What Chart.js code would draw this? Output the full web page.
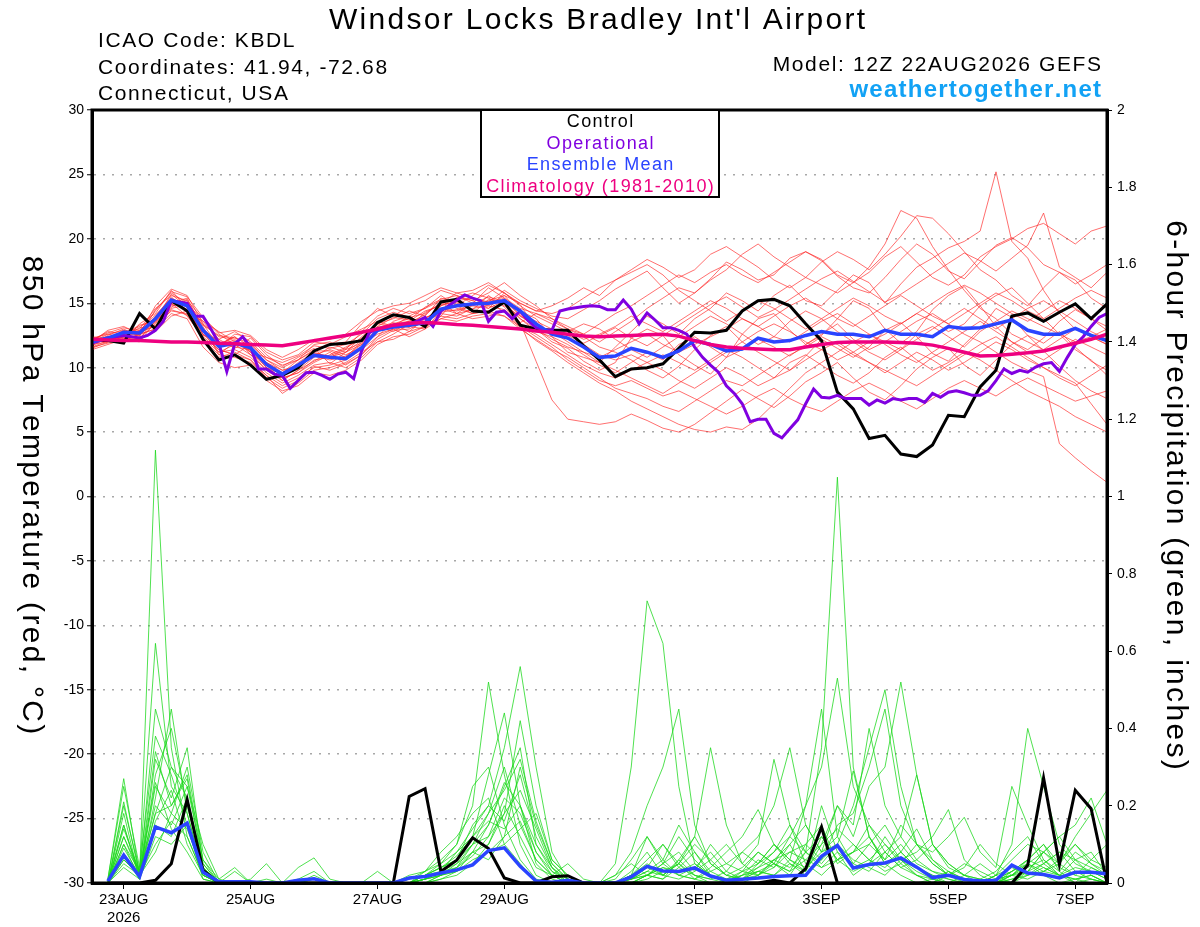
<!DOCTYPE html>
<html>
<head>
<meta charset="utf-8">
<script src="https://cdn.jsdelivr.net/npm/chart.js@4.4.1/dist/chart.umd.min.js"></script>
<style>
  html, body { margin: 0; padding: 0; background: #fff; }
  canvas { display: block; }
</style>
</head>
<body>
<canvas id="chart" width="1200" height="927"></canvas>
<script>
// x axis is hours after 12Z 22AUG2026
const tickHours = [12, 60, 108, 156, 228, 276, 324, 372];
const tickLabels = [['23AUG', '2026'], '25AUG', '27AUG', '29AUG', '1SEP', '3SEP', '5SEP', '7SEP'];
const tempTicks = [-30, -25, -20, -15, -10, -5, 0, 5, 10, 15, 20, 25, 30];

// 850 hPa temperature, 6-hourly from 12Z 22AUG
const control = [
  12.1, 12.1, 11.9, 14.2, 13.0, 15.2, 14.4, 12.2, 10.6, 11.0,
  10.2, 9.1, 9.4, 10.0, 11.3, 11.8, 11.9, 12.1, 13.5, 14.1,
  13.9, 13.2, 15.1, 15.3, 14.4, 14.3, 15.1, 13.3, 13.0, 12.9,
  12.9, 11.7, 10.6, 9.3, 9.9, 10.0, 10.3, 11.5, 12.75, 12.7,
  12.9, 14.4, 15.2, 15.3, 14.8, 13.4, 12.1, 8.1, 6.8, 4.5,
  4.75, 3.3, 3.1, 4.0, 6.3, 6.2, 8.5, 9.8, 14.0, 14.25,
  13.6, 14.3, 14.95, 13.8, 14.95
];
const ensMean = [
  12.0, 12.3, 12.75, 12.7, 13.8, 15.25, 14.8, 12.9, 11.65, 11.9,
  11.55, 10.25, 9.5, 10.2, 10.95, 10.8, 10.7, 11.55, 12.9, 13.15,
  13.3, 13.5, 14.55, 14.8, 14.95, 15.0, 15.2, 14.4, 13.4, 12.6,
  12.3, 11.6, 10.8, 10.9, 11.5, 11.2, 10.8, 11.3, 12.1, 11.8,
  11.3, 11.45, 12.3, 12.0, 12.1, 12.5, 12.8, 12.6, 12.6, 12.4,
  12.9, 12.6, 12.6, 12.4, 13.2, 13.05, 13.1, 13.4, 13.7, 12.9,
  12.6, 12.6, 13.05, 12.5, 12.1
];
const climo = [
  12.2, 12.15, 12.1, 12.1, 12.05, 12.0, 12.0, 11.95, 11.9, 11.85,
  11.8, 11.75, 11.7, 11.9, 12.1, 12.3, 12.5, 12.75, 13.0, 13.3,
  13.45, 13.5, 13.45, 13.35, 13.3, 13.2, 13.1, 13.0, 12.85, 12.75,
  12.6, 12.45, 12.4, 12.45, 12.5, 12.55, 12.6, 12.45, 12.1, 11.8,
  11.6, 11.5, 11.45, 11.4, 11.4, 11.6, 11.8, 11.95, 12.0, 12.0,
  12.0, 11.95, 11.9, 11.75, 11.5, 11.2, 10.9, 10.95, 11.05, 11.15,
  11.3, 11.6, 11.9, 12.2, 12.6
];
// operational run, 3-hourly
const operational = [
  11.9, 12.1, 12.3, 12.4, 12.5, 12.4, 12.3, 12.5, 12.9, 13.6,
  15.2, 15.1, 15.0, 14.0, 14.0, 13.0, 11.9, 9.7, 11.85, 12.4,
  11.6, 9.9, 9.9, 9.5, 9.4, 8.4, 9.0, 9.6, 9.65, 9.4,
  9.1, 9.5, 9.65, 9.15, 11.3, 12.75, 13.0, 13.15, 13.3, 13.35,
  13.4, 13.6, 13.9, 13.2, 14.4, 14.8, 15.25, 15.65, 15.4, 15.2,
  13.6, 14.3, 14.4, 13.8, 14.4, 13.65, 13.1, 12.95, 12.9, 14.4,
  14.55, 14.65, 14.75, 14.8, 14.75, 14.5, 14.5, 15.25, 14.55, 13.4,
  14.25, 13.7, 13.1, 13.1, 12.9, 12.6, 11.6, 10.8, 10.2, 9.65,
  8.6, 8.0, 7.2, 5.8, 6.0, 6.0, 4.9, 4.55, 5.25, 5.95,
  7.2, 8.35, 7.7, 7.65, 7.85, 7.6, 7.6, 7.6, 7.1, 7.5,
  7.25, 7.6, 7.5, 7.6, 7.6, 7.3, 8.0, 7.7, 8.1, 8.2,
  8.05, 7.85, 7.85, 8.2, 9.0, 9.9, 9.55, 9.8, 9.65, 10.05,
  10.3, 10.4, 9.7, 10.8, 11.8, 12.4, 13.2, 13.9, 14.2
];

// 6-hour precipitation (inches), periods ending 18Z 22AUG ... 12Z 7SEP
const precipControl = [
  0, 0, 0, 0.007, 0.05, 0.216, 0.033, 0, 0, 0,
  0, 0, 0, 0, 0, 0, 0, 0, 0, 0.224,
  0.244, 0.03, 0.059, 0.117, 0.089, 0.013, 0, 0, 0.016, 0.019,
  0, 0, 0, 0, 0, 0, 0, 0, 0, 0,
  0, 0, 0.007, 0, 0.037, 0.145, 0, 0, 0, 0,
  0, 0, 0, 0, 0, 0, 0, 0, 0.046, 0.272,
  0.048, 0.24, 0.192, 0
];
const precipMean = [
  0.005, 0.072, 0.017, 0.145, 0.13, 0.155, 0.028, 0.003, 0.003, 0.003,
  0, 0, 0.007, 0.011, 0, 0, 0, 0, 0, 0.013,
  0.017, 0.026, 0.034, 0.047, 0.084, 0.091, 0.043, 0.005, 0.002, 0.007,
  0, 0, 0, 0.016, 0.043, 0.031, 0.03, 0.039, 0.018, 0.007,
  0.01, 0.013, 0.017, 0.019, 0.02, 0.069, 0.097, 0.039, 0.048, 0.052,
  0.065, 0.041, 0.014, 0.02, 0.009, 0.005, 0.007, 0.046, 0.026, 0.022,
  0.013, 0.028, 0.028, 0.024
];

// ensemble members, temperature (red)
const tempMembers = [
  [11.8,12.5,13.0,12.4,14.5, 15.8,15.0,13.2,11.0,12.0, 11.2,9.8,9.0,9.8,10.5, 11.2,10.2,11.0,12.4,13.6, 14.0,13.2,14.0,15.5,15.2, 14.6,15.8,14.9,13.0,12.0, 11.5,10.5,9.8,10.4,12.3, 13.0,12.5,11.0,10.2,9.5, 10.8,12.6,13.8,14.2,12.9, 11.8,12.5,13.8,15.2,14.6, 13.0,11.9,12.8,14.5,15.6, 16.3,14.8,13.2,12.0,11.4, 12.3,13.6,14.5,13.8,12.9],
  [12.2,12.0,12.4,13.1,13.2, 14.7,15.3,12.5,12.2,11.5, 12.3,11.0,10.1,10.8,11.5, 10.3,11.2,12.1,13.2,12.8, 13.5,14.1,15.1,14.2,14.5, 15.6,14.7,13.5,14.2,13.8, 13.0,12.4,11.6,11.2,10.6, 9.8,9.2,10.1,11.4,12.5, 13.2,12.0,11.2,10.5,9.8, 10.9,12.2,11.5,10.8,11.6, 12.9,13.5,12.4,11.1,10.5, 11.8,13.0,14.6,13.9,12.5, 11.9,12.8,11.6,10.5,9.8],
  [12.0,12.6,12.9,12.5,14.0, 15.5,14.3,13.6,12.2,12.8, 12.0,10.8,10.4,10.9,11.7, 11.5,11.8,12.6,13.8,14.3, 13.9,14.2,15.0,15.8,15.4, 15.1,16.0,15.2,14.6,14.0, 13.8,14.5,15.2,16.1,16.8, 17.5,16.2,15.0,15.8,16.9, 18.2,17.6,16.8,17.2,18.5, 19.0,18.3,17.1,16.2,15.8, 17.0,18.4,19.6,18.8,17.5, 16.9,18.2,19.5,20.1,19.3, 18.0,17.4,16.5,17.2,18.0],
  [11.6,12.1,12.5,12.9,13.5, 14.9,15.1,12.0,10.8,11.2, 10.6,9.2,8.4,9.0,10.1, 9.8,10.3,11.0,12.2,12.9, 13.0,13.6,14.2,14.0,14.6, 14.8,14.5,13.5,10.5,7.5, 6.0,5.8,5.6,5.8,6.4, 5.9,5.3,5.0,5.6,6.5, 7.4,8.3,7.6,6.9,7.8, 8.9,9.6,10.4,9.2,8.1, 7.5,8.6,9.9,10.8,11.5, 10.2,9.4,10.6,11.8,12.5, 11.3,10.1,9.0,8.2,7.6],
  [12.4,12.2,12.0,13.4,14.2, 16.0,14.6,12.6,11.8,12.4, 11.0,10.4,9.6,10.6,11.8, 12.0,11.4,11.9,13.0,13.4, 12.8,13.8,14.6,14.2,15.0, 16.2,15.4,14.0,13.2,12.8, 12.0,11.2,10.4,11.6,12.8, 14.0,13.4,12.6,13.8,14.6, 15.8,15.2,14.4,15.6,16.4, 15.2,14.8,16.0,17.2,16.6, 15.0,16.5,17.8,18.5,19.3, 19.8,20.6,25.2,19.8,18.5, 16.0,14.2,13.0,12.4,11.8],
  [11.9,12.4,12.2,12.0,13.6, 15.0,14.0,12.4,11.4,11.0, 11.8,10.6,9.8,10.0,10.9, 10.6,10.9,11.8,12.6,13.0, 13.2,13.0,14.4,14.8,14.2, 14.4,15.0,13.8,12.8,12.4, 11.8,11.0,10.2,9.6,10.4, 11.2,10.6,11.8,12.4,11.6, 10.8,11.4,12.2,11.6,10.9, 11.8,12.6,13.4,12.2,11.4, 12.0,12.8,13.6,14.2,13.4, 12.6,12.0,11.2,10.4,9.8, 9.3,4.1,3.0,2.0,1.1],
  [12.1,12.8,12.6,12.2,13.9, 15.4,14.8,13.0,12.0,11.6, 11.4,10.0,9.2,9.6,10.4, 11.0,11.6,12.2,13.4,13.8, 14.4,14.0,15.4,15.0,14.8, 15.2,15.6,14.2,13.6,13.0, 12.2,11.8,11.0,10.6,11.0, 10.4,9.8,9.0,8.4,9.2, 10.0,9.4,8.6,9.2,10.4, 11.0,10.2,9.4,8.8,9.6, 10.8,11.6,10.6,9.8,10.4, 11.2,10.6,9.8,9.0,8.2, 7.6,7.0,6.2,5.6,5.0],
  [12.3,12.0,12.8,13.0,14.6, 15.6,15.2,13.8,12.6,11.8, 11.6,10.2,9.4,10.4,11.2, 10.8,11.4,12.8,14.0,14.6, 14.2,14.6,15.6,14.8,15.6, 16.4,15.8,15.0,14.4,14.8, 15.4,16.2,15.6,16.8,17.6, 18.4,17.8,17.0,17.6,18.8, 19.4,18.6,17.8,16.8,16.2, 17.0,18.2,19.0,18.4,17.6, 18.8,20.2,21.8,21.6,20.4, 19.0,17.6,16.8,15.6,14.8, 16.2,17.4,16.8,15.4,14.6],
  [11.7,12.3,12.6,12.8,13.2, 14.6,14.9,13.4,12.4,12.2, 11.2,10.8,10.2,10.6,11.4, 11.8,12.4,13.0,13.6,13.2, 13.6,14.4,14.8,15.4,15.8, 15.4,14.8,14.0,13.4,12.6, 12.8,13.4,13.0,12.2,11.4, 10.8,11.6,12.4,13.2,14.0, 13.4,12.6,11.8,12.4,13.6, 14.4,13.8,12.8,12.0,11.2, 10.6,11.4,12.6,13.2,12.4, 11.6,12.8,13.6,14.4,13.8, 13.2,12.6,12.0,12.4,13.0],
  [11.4,11.8,12.2,12.6,13.0, 14.2,13.8,11.6,10.4,10.0, 10.2,9.0,8.2,8.6,9.6, 9.4,9.8,10.6,11.8,12.4, 12.6,13.2,13.8,13.6,14.0, 14.2,14.0,13.0,12.2,11.4, 10.8,10.0,9.2,8.4,8.0, 7.6,7.0,6.6,7.4,8.2, 9.0,8.6,9.4,10.2,11.0, 11.6,12.4,11.8,11.0,10.4, 9.8,9.2,8.6,9.4,10.2, 11.0,11.8,12.4,11.6,10.8, 10.0,9.2,8.6,9.4,10.2],
  [12.0,12.9,13.2,12.6,14.8, 16.1,15.6,13.4,11.6,12.6, 12.4,11.2,10.6,11.0,12.0, 11.8,12.0,13.4,14.6,14.0, 14.8,15.2,16.0,15.6,15.2, 15.8,16.6,15.6,14.8,13.8, 13.2,12.6,12.0,12.8,13.6, 14.6,15.4,16.2,15.8,16.8, 17.6,18.8,19.6,18.6,17.8, 17.0,16.4,15.8,16.6,17.4, 18.6,19.4,18.2,17.0,16.4, 17.2,18.6,19.4,20.0,20.8, 21.2,20.4,19.6,20.6,21.0],
  [12.2,12.4,12.6,13.2,13.8, 15.2,14.4,12.8,11.2,11.4, 10.8,9.6,8.8,9.4,10.2, 10.4,10.0,10.8,12.0,12.6, 13.4,13.8,14.6,14.4,14.8, 14.6,15.2,14.4,13.8,12.4, 11.2,10.8,10.4,9.8,9.2, 8.6,8.0,8.8,9.6,10.4, 11.2,12.0,12.8,13.4,12.8, 12.0,11.4,10.6,11.2,12.0, 12.6,13.4,14.2,13.6,12.8, 13.4,14.8,15.6,16.2,15.0, 13.8,12.6,11.4,10.6,9.4],
  [11.9,12.2,12.4,12.3,13.4, 15.0,15.4,13.0,11.8,12.4, 11.6,10.4,9.8,10.2,11.0, 11.4,11.0,11.6,12.8,13.4, 13.8,13.4,14.8,15.2,15.4, 15.0,15.4,14.6,14.2,13.6, 13.0,12.6,13.4,14.2,14.8, 15.6,16.4,17.2,16.6,17.4, 18.0,17.2,16.6,17.4,18.2, 19.0,18.4,17.2,16.6,17.8, 19.6,22.2,21.6,19.4,17.6, 16.0,14.6,13.8,12.6,12.0, 11.4,12.2,13.0,12.4,11.8],
  [12.3,12.6,12.3,12.9,14.1, 15.3,14.5,12.9,11.9,12.1, 11.3,10.0,9.5,10.3,11.1, 10.9,11.5,12.3,13.1,13.5, 13.1,14.3,14.9,15.1,14.9, 15.5,15.1,14.1,13.1,12.9, 12.5,11.9,12.5,13.1,12.3, 11.7,12.5,13.3,14.1,14.9, 15.5,14.7,13.9,14.5,15.3, 16.1,16.9,17.5,16.7,15.9, 15.1,15.7,16.5,17.3,18.1, 18.9,18.3,17.5,18.5,19.5, 22.0,17.8,17.0,16.2,17.4],
  [11.5,12.0,12.4,12.7,13.3, 14.4,14.2,12.2,11.0,10.8, 10.4,9.4,8.6,9.2,10.0, 10.2,10.6,11.4,12.4,13.0, 12.4,13.0,13.8,14.2,13.8, 14.0,14.4,13.2,12.4,11.6, 10.6,9.8,9.0,8.6,9.0, 8.4,7.8,8.2,7.6,7.0, 6.4,7.0,7.8,8.4,7.6, 7.0,6.6,7.4,8.2,8.8, 8.2,7.4,6.8,7.6,8.4, 9.0,8.4,7.8,8.6,9.2, 8.6,8.0,7.4,7.8,8.2],
  [12.1,12.2,12.9,12.5,13.7, 15.7,14.7,13.3,12.5,12.3, 11.9,10.6,10.0,10.6,11.3, 11.3,10.8,12.0,13.2,13.9, 13.7,14.7,15.3,15.6,15.0, 14.8,15.6,15.0,14.4,14.2, 14.6,15.4,16.2,16.8,17.4, 18.0,17.2,16.0,15.2,14.4, 13.6,14.4,15.2,14.6,13.8, 13.0,13.8,14.6,15.4,14.8, 14.0,13.4,14.2,15.0,15.8, 16.4,15.8,15.0,14.2,13.6, 14.4,15.2,14.6,13.8,13.2],
  [11.8,12.0,12.6,13.3,13.6, 14.8,15.0,13.6,12.8,12.0, 11.4,10.2,9.0,9.8,10.8, 11.6,11.2,12.4,13.4,13.2, 14.0,14.6,15.2,14.6,14.2, 15.3,15.0,13.8,13.0,12.2, 11.6,11.2,10.8,11.4,12.0, 12.6,11.8,11.2,11.8,12.4, 13.0,13.8,13.2,12.4,12.0, 12.8,13.6,14.2,13.4,12.6, 12.0,11.4,12.2,13.0,13.8, 14.6,13.8,13.0,13.8,14.6, 15.2,14.4,13.6,12.8,12.2],
  [12.0,12.3,12.1,12.6,13.0, 14.5,14.1,12.3,11.2,11.8, 11.0,9.8,9.2,9.6,10.6, 10.8,11.2,11.8,12.8,13.4, 13.6,13.9,14.3,14.5,14.9, 15.1,14.3,13.1,12.1,11.3, 10.4,9.6,8.8,8.2,7.4, 6.8,6.2,5.6,5.2,5.0, 5.4,5.2,6.0,7.2,8.4, 9.6,10.4,11.2,12.0,12.6, 11.8,11.0,10.4,11.2,12.0, 12.8,13.6,12.8,12.0,11.2, 10.6,11.4,12.2,11.6,11.0],
  [12.2,12.7,13.1,12.8,14.4, 15.9,15.5,13.9,12.7,12.9, 12.5,11.4,10.8,11.4,12.2, 12.2,12.6,13.6,14.4,14.8, 15.0,15.6,16.2,15.8,16.0, 16.6,15.8,14.8,14.0,13.4, 12.8,12.2,12.6,13.2,14.0, 13.4,12.8,13.6,14.4,15.2, 14.6,13.8,13.2,14.0,14.8, 15.4,14.6,13.8,13.2,14.0, 14.8,15.6,14.8,14.0,13.4, 14.2,15.0,15.8,15.2,14.4, 13.8,14.6,15.4,16.0,15.4],
  [11.6,11.9,12.3,12.2,12.8, 14.0,14.4,12.6,11.4,11.0, 10.6,9.4,8.0,8.8,9.8, 10.0,10.4,11.2,12.0,12.2, 12.8,13.2,14.0,13.8,14.2, 14.4,14.0,13.2,12.6,11.8, 11.0,10.2,9.6,9.2,9.8, 10.4,11.0,10.4,9.8,10.6, 11.4,10.8,10.0,9.2,9.8, 10.6,11.4,12.0,11.2,10.4, 9.6,10.4,11.2,10.6,9.8, 10.4,11.2,12.0,11.4,10.6, 10.0,9.4,8.8,7.2,5.6]
];

// ensemble members, 6-hour precipitation (green)
const precipMembers = [
  [0,0.21,0.02,1.12,0.35,0.12,0.02, 0,0,0,0,0,0,0,0, 0,0,0,0,0.01,0.03,0.08,0.12, 0.18,0.22,0.1,0.05,0,0,0,0, 0,0,0.03,0.08,0.02,0.05,0.01,0, 0,0.02,0.06,0.04,0.1,0.03,0.2,0.08, 0.02,0.05,0.12,0.06,0.02,0,0.03,0.01, 0,0,0.02,0.06,0.1,0.03,0,0.04, 0.02],
  [0,0.12,0.03,0.62,0.25,0.18,0.03, 0,0,0,0,0,0,0,0, 0,0,0,0,0,0.02,0.05,0.1, 0.25,0.3,0.15,0.06,0.01,0,0,0, 0,0,0,0.02,0.01,0.04,0.08,0.02, 0,0.01,0.03,0.05,0.02,0.08,0.35,1.05, 0.3,0.12,0.05,0.02,0,0.01,0.03,0, 0,0.01,0.03,0.05,0.02,0,0.01,0.02, 0],
  [0.01,0.27,0.02,0.45,0.3,0.25,0.06, 0.01,0,0,0,0,0,0,0, 0,0,0,0,0,0.01,0.03,0.06, 0.12,0.28,0.44,0.2,0.05,0.01,0,0, 0,0.05,0.3,0.73,0.62,0.25,0.05,0.02, 0.01,0,0.02,0.05,0.03,0.1,0.15,0.05, 0.08,0.15,0.1,0.05,0.02,0,0.02,0.05, 0.03,0.01,0,0.02,0.05,0.08,0.03,0.01, 0],
  [0,0.18,0.01,0.28,0.4,0.2,0.04, 0,0,0,0,0,0.04,0.065,0.01, 0,0,0,0,0,0.02,0.04,0.06, 0.15,0.2,0.35,0.56,0.3,0.08,0.01,0, 0,0,0.02,0.06,0.1,0.04,0.02,0, 0,0.03,0.08,0.05,0.12,0.08,0.05,0.1, 0.2,0.35,0.5,0.25,0.1,0.05,0.02,0, 0.01,0.03,0.08,0.12,0.05,0.02,0.01,0, 0],
  [0,0.15,0.01,0.32,0.22,0.35,0.05, 0,0,0,0,0,0,0.01,0, 0,0,0,0,0,0.03,0.06,0.1, 0.2,0.52,0.28,0.1,0.02,0,0,0, 0,0.02,0.05,0.02,0.01,0.06,0.12,0.05, 0.02,0.01,0.05,0.1,0.06,0.03,0.1,0.2, 0.12,0.25,0.3,0.52,0.28,0.1,0.05,0.02, 0,0.01,0.02,0.05,0.03,0.06,0.1,0.05, 0.02],
  [0,0.1,0.03,0.2,0.15,0.25,0.1, 0.01,0.04,0,0.01,0,0,0,0, 0,0,0,0,0,0,0.02,0.03, 0.08,0.1,0.2,0.12,0.04,0.02,0.05,0.01, 0,0,0.02,0.04,0.1,0.05,0.12,0.35, 0.15,0.05,0.1,0.32,0.15,0.05,0.02,0.06, 0.1,0.06,0.03,0.05,0.1,0.06,0.02,0.01, 0,0.02,0.1,0.4,0.25,0.1,0.05,0.03, 0.01],
  [0,0.12,0.02,0.25,0.18,0.3,0.08, 0,0,0.01,0.05,0,0,0,0, 0,0,0,0,0,0.01,0.02,0.05, 0.1,0.15,0.25,0.35,0.1,0.03,0.01,0, 0,0,0,0.02,0.05,0.08,0.03,0.1, 0.05,0.08,0.12,0.2,0.35,0.15,0.08,0.12, 0.29,0.12,0.05,0.08,0.04,0.02,0,0.02, 0.05,0.02,0,0.03,0.08,0.12,0.06,0.02, 0],
  [0,0.05,0.02,0.15,0.12,0.22,0.04, 0,0,0,0,0,0.01,0.03,0, 0,0,0,0,0.02,0.03,0.05,0.08, 0.12,0.18,0.3,0.15,0.06,0.02,0,0, 0,0,0.01,0.03,0.02,0.06,0.02,0.01, 0.03,0.08,0.05,0.1,0.06,0.2,0.45,0.12, 0.05,0.1,0.15,0.08,0.04,0.02,0.01,0, 0,0,0.01,0.03,0.08,0.05,0.12,0.18, 0.24],
  [0.01,0.25,0.04,0.38,0.28,0.15,0.02, 0,0,0,0,0,0,0,0, 0,0,0,0,0,0.01,0.03,0.08, 0.14,0.2,0.16,0.28,0.12,0.04,0,0, 0,0.01,0.06,0.12,0.05,0.02,0.04,0.08, 0.03,0.01,0.02,0.06,0.1,0.15,0.08,0.2, 0.15,0.4,0.2,0.12,0.28,0.1,0.04,0.02, 0.01,0,0.02,0.04,0.06,0.03,0.08,0.05, 0.03],
  [0,0.1,0.01,0.22,0.45,0.18,0.03, 0,0,0,0,0,0,0,0, 0,0,0,0,0,0,0.01,0.02, 0.05,0.1,0.18,0.42,0.2,0.06,0.02,0, 0,0,0.02,0.12,0.06,0.15,0.08,0.03, 0.01,0.02,0.03,0.02,0.05,0.03,0.12,0.06, 0.08,0.1,0.06,0.15,0.1,0.08,0.12,0.17, 0.08,0.04,0.25,0.15,0.06,0.02,0,0.01, 0],
  [0,0.06,0.02,0.18,0.2,0.28,0.06, 0,0.03,0,0,0,0,0,0, 0,0,0,0,0,0.02,0.04,0.06, 0.1,0.12,0.22,0.18,0.08,0.03,0,0, 0,0.02,0.08,0.2,0.3,0.45,0.15,0.05, 0.02,0.04,0.08,0.05,0.03,0.06,0.04,0.08, 0.05,0.03,0.08,0.12,0.06,0.03,0.02,0.01, 0,0.02,0.06,0.1,0.08,0.12,0.15,0.22, 0.1],
  [0,0.07,0.01,0.12,0.1,0.15,0.01, 0,0,0,0,0,0,0.02,0, 0,0,0,0,0,0.01,0.02,0.04, 0.08,0.06,0.12,0.3,0.15,0.05,0.01,0, 0,0,0.01,0.03,0.06,0.02,0.01,0.04, 0.08,0.12,0.19,0.1,0.05,0.02,0.06,0.1, 0.04,0.06,0.1,0.06,0.08,0.12,0.19,0.06, 0.02,0,0.01,0.02,0.04,0.02,0.06,0.08, 0.02],
  [0,0.14,0.03,0.18,0.3,0.22,0.05, 0,0,0,0,0,0,0,0, 0,0,0,0,0,0.01,0.03,0.05, 0.08,0.15,0.26,0.2,0.1,0.04,0.01,0, 0,0,0.01,0.02,0.04,0.03,0.05,0.02, 0.01,0.03,0.05,0.08,0.12,0.2,0.3,0.53, 0.25,0.15,0.08,0.04,0.02,0.01,0,0, 0,0.01,0.03,0.06,0.04,0.02,0.04,0.03, 0.01],
  [0,0.09,0.02,0.1,0.16,0.12,0.02, 0,0,0,0,0,0,0,0, 0,0,0,0,0.01,0.02,0.04,0.07, 0.12,0.16,0.14,0.2,0.08,0.02,0,0, 0,0,0,0.01,0.03,0.05,0.1,0.06, 0.02,0.01,0.04,0.06,0.08,0.1,0.06,0.15, 0.18,0.3,0.45,0.2,0.1,0.05,0.02,0.04, 0.1,0.05,0.02,0.03,0.05,0.08,0.06,0.04, 0.02],
  [0,0.2,0.03,0.26,0.14,0.08,0.01, 0,0,0,0,0,0,0,0, 0,0,0,0,0,0,0.01,0.03, 0.06,0.08,0.1,0.14,0.18,0.06,0.02,0, 0,0,0.02,0.05,0.02,0.01,0.03,0.06, 0.1,0.05,0.02,0.04,0.08,0.06,0.1,0.14, 0.1,0.06,0.04,0.08,0.14,0.06,0.03,0.01, 0,0.02,0.04,0.02,0.03,0.05,0.1,0.06, 0.04],
  [0,0.04,0.01,0.16,0.24,0.1,0.02, 0,0,0,0,0,0,0.01,0, 0,0,0,0,0,0.02,0.03,0.04, 0.07,0.12,0.18,0.24,0.14,0.04,0,0, 0,0,0,0.02,0.05,0.12,0.06,0.02, 0,0.02,0.04,0.08,0.15,0.08,0.04,0.06, 0.08,0.12,0.06,0.1,0.05,0.03,0.01,0, 0,0,0.02,0.05,0.08,0.04,0.02,0.01, 0],
  [0,0.06,0.02,0.08,0.18,0.14,0.03, 0,0,0,0,0,0,0,0, 0,0,0.03,0,0,0,0.02,0.03, 0.05,0.08,0.12,0.16,0.06,0.02,0,0, 0,0,0.01,0.02,0.04,0.02,0.01,0.03, 0.05,0.03,0.02,0.06,0.04,0.08,0.12,0.06, 0.03,0.05,0.08,0.04,0.06,0.1,0.05,0.02, 0.01,0,0.03,0.06,0.1,0.05,0.02,0.06, 0.1],
  [0,0.15,0.02,0.34,0.2,0.27,0.04, 0,0,0,0,0,0,0,0, 0,0,0,0,0,0.01,0.02,0.04, 0.1,0.18,0.24,0.32,0.16,0.05,0.01,0, 0,0,0.01,0.04,0.02,0.05,0.02,0.01, 0,0.01,0.03,0.02,0.06,0.04,0.08,0.1, 0.06,0.04,0.02,0.06,0.03,0.01,0,0, 0,0.01,0.02,0.01,0.03,0.02,0.01,0.02, 0]
];

const FONT = 'Liberation Sans, Arial, Helvetica, sans-serif';
const COL_OPER = '#8000e0';
const COL_MEAN = '#2a44ff';
const COL_CLIMO = '#ee0080';

// pair values with their forecast hour
function series(vals, stepHours, firstHour) {
  return vals.map((v, i) => ({ x: firstHour + i * stepHours, y: v }));
}

function line(data, color, width, axis, order) {
  return {
    data: data,
    yAxisID: axis,
    borderColor: color,
    borderWidth: width,
    pointRadius: 0,
    tension: 0,
    fill: false,
    order: order
  };
}

const datasets = [];
tempMembers.forEach(m => datasets.push(line(series(m, 6, 0), 'rgba(255,40,40,0.75)', 0.9, 'y', 20)));
precipMembers.forEach(m => datasets.push(line(series(m, 6, 6), 'rgba(25,215,25,0.85)', 0.9, 'y2', 19)));
datasets.push(line(series(precipControl, 6, 6), '#000000', 3, 'y2', 8));
datasets.push(line(series(precipMean, 6, 6), COL_MEAN, 3.5, 'y2', 7));
datasets.push(line(series(control, 6, 0), '#000000', 3, 'y', 5));
datasets.push(line(series(operational, 3, 0), COL_OPER, 3, 'y', 4));
datasets.push(line(series(ensMean, 6, 0), COL_MEAN, 3.5, 'y', 3));
datasets.push(line(series(climo, 6, 0), COL_CLIMO, 3.5, 'y', 2));

// the original text is set a little wider than Liberation Sans, so add tracking
function spaced(ctx, text, x, y, align, size) {
  const gap = size * 0.077;
  const chars = Array.from(text);
  const widths = chars.map(c => ctx.measureText(c).width);
  const total = widths.reduce((s, w) => s + w, 0) + gap * (chars.length - 1);
  let sx = align === 'center' ? x - total / 2 : align === 'right' ? x - total : x;
  ctx.textAlign = 'left';
  chars.forEach((c, i) => {
    ctx.fillText(c, sx, y);
    sx += widths[i] + gap;
  });
}

const decor = {
  id: 'decor',
  afterDatasetsDraw(chart) {
    const ctx = chart.ctx;
    const a = chart.chartArea;
    ctx.save();

    // plot frame
    ctx.lineWidth = 3;
    ctx.strokeStyle = '#000';
    ctx.strokeRect(a.left, a.top, a.right - a.left, a.bottom - a.top);

    // legend box
    ctx.fillStyle = '#fff';
    ctx.fillRect(481, a.top, 238, 87);
    ctx.lineWidth = 2;
    ctx.strokeRect(481, a.top, 238, 87);
    ctx.textBaseline = 'middle';
    ctx.font = '18px ' + FONT;
    [['Control', '#000'], ['Operational', COL_OPER], ['Ensemble Mean', COL_MEAN],
     ['Climatology (1981-2010)', COL_CLIMO]].forEach((row, i) => {
      ctx.fillStyle = row[1];
      spaced(ctx, row[0], 600, 122 + i * 21.7, 'center', 18);
    });

    // header
    ctx.fillStyle = '#000';
    ctx.textBaseline = 'alphabetic';
    ctx.font = '30px ' + FONT;
    spaced(ctx, "Windsor Locks Bradley Int'l Airport", 597, 29, 'center', 30);
    ctx.font = '21px ' + FONT;
    spaced(ctx, 'ICAO Code: KBDL', 98, 47, 'left', 21);
    spaced(ctx, 'Coordinates: 41.94, -72.68', 98, 74, 'left', 21);
    spaced(ctx, 'Connecticut, USA', 98, 100, 'left', 21);
    spaced(ctx, 'Model: 12Z 22AUG2026 GEFS', 1101, 71, 'right', 21);
    ctx.font = 'bold 24px ' + FONT;
    ctx.fillStyle = '#12a2f5';
    spaced(ctx, 'weathertogether.net', 1101, 97, 'right', 16);

    // axis titles, both read top to bottom
    ctx.fillStyle = '#000';
    ctx.textBaseline = 'middle';
    ctx.font = '30px ' + FONT;
    ctx.save();
    ctx.translate(31, 495);
    ctx.rotate(Math.PI / 2);
    spaced(ctx, '850 hPa Temperature (red, \u00B0C)', 0, 0, 'center', 30);
    ctx.restore();
    ctx.save();
    ctx.translate(1175, 495);
    ctx.rotate(Math.PI / 2);
    spaced(ctx, '6-hour Precipitation (green, inches)', 0, 0, 'center', 30);
    ctx.restore();

    ctx.restore();
  }
};

new Chart(document.getElementById('chart'), {
  type: 'line',
  data: { datasets: datasets },
  options: {
    responsive: false,
    animation: false,
    devicePixelRatio: 1,
    events: [],
    layout: { padding: { top: 110, left: 0, right: 0, bottom: 0 } },
    plugins: { legend: { display: false }, tooltip: { enabled: false }, title: { display: false } },
    scales: {
      x: {
        type: 'linear',
        position: 'bottom',
        min: 0,
        max: 384,
        afterBuildTicks: s => { s.ticks = tickHours.map(h => ({ value: h })); },
        afterFit: s => { s.height = 44; },
        ticks: {
          autoSkip: false,
          maxRotation: 0,
          padding: 2,
          color: '#000',
          font: { family: FONT, size: 15 },
          callback: (v, i) => tickLabels[i]
        },
        grid: { drawOnChartArea: false, drawTicks: true, tickLength: 6, tickColor: '#000', tickWidth: 1 },
        border: { display: true, color: '#000', width: 3 }
      },
      y: {
        position: 'left',
        min: -30,
        max: 30,
        afterBuildTicks: s => { s.ticks = tempTicks.map(v => ({ value: v })); },
        afterFit: s => { s.width = 92; },
        ticks: { padding: 3, color: '#000', font: { family: FONT, size: 14 } },
        grid: {
          drawOnChartArea: true,
          color: c => (c.tick && Math.abs(c.tick.value) === 30) ? 'rgba(0,0,0,0)' : '#a8a8a8',
          lineWidth: 1.5,
          drawTicks: true,
          tickLength: 5,
          tickColor: '#000',
          tickWidth: 1
        },
        border: { display: true, color: '#000', width: 3, dash: [2, 7] }
      },
      y2: {
        position: 'right',
        min: 0,
        max: 2,
        afterFit: s => { s.width = 93; },
        ticks: {
          stepSize: 0.2,
          padding: 5,
          color: '#000',
          font: { family: FONT, size: 14 },
          callback: v => String(Math.round(v * 10) / 10)
        },
        grid: { drawOnChartArea: false, drawTicks: true, tickLength: 5, tickColor: '#000', tickWidth: 1 },
        border: { display: true, color: '#000', width: 3 }
      }
    }
  },
  plugins: [decor]
});
</script>
</body>
</html>
